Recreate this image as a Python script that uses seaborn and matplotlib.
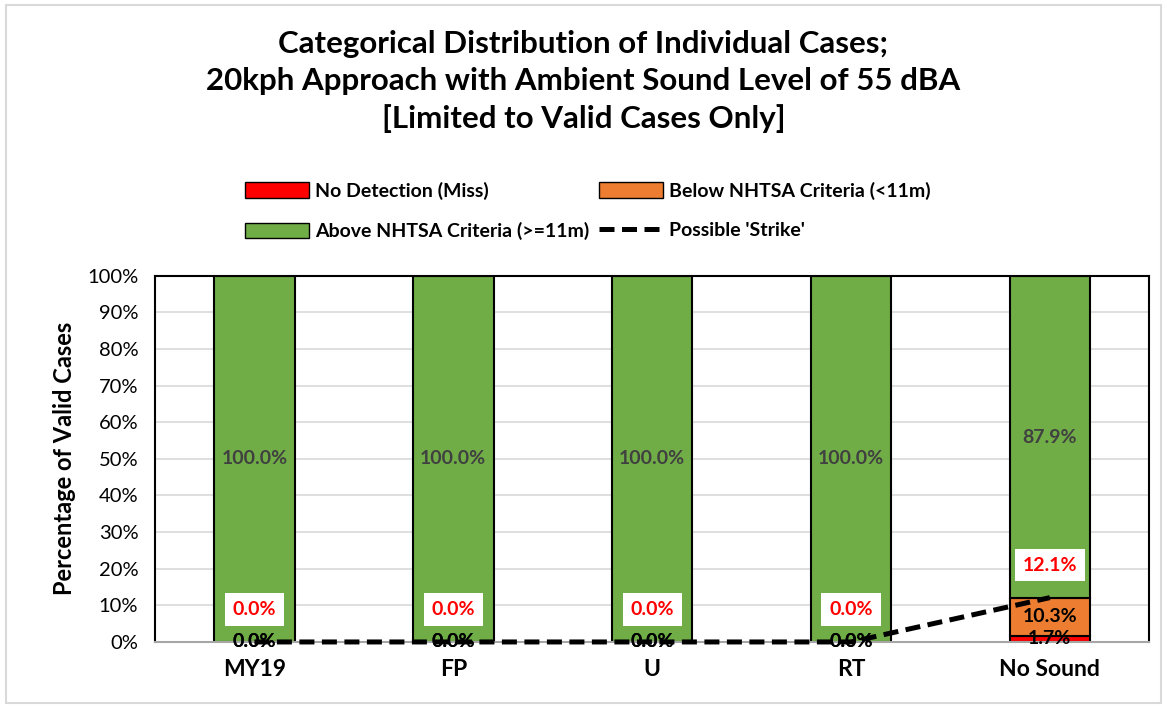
import numpy as np
import pandas as pd
import matplotlib
matplotlib.use("Agg")
import matplotlib.pyplot as plt
import seaborn as sns
from matplotlib.patches import Patch, Rectangle
from matplotlib.lines import Line2D

# Chart data
categories = ["MY19", "FP", "U", "RT", "No Sound"]
no_detection = [0.0, 0.0, 0.0, 0.0, 1.7]
below_nhtsa = [0.0, 0.0, 0.0, 0.0, 10.3]
above_nhtsa = [100.0, 100.0, 100.0, 100.0, 87.9]
possible_strike = [0.0, 0.0, 0.0, 0.0, 12.1]
y_ticks = [0, 10, 20, 30, 40, 50, 60, 70, 80, 90, 100]

title = ("Categorical Distribution of Individual Cases;\n"
         "20kph Approach with Ambient Sound Level of 55 dBA\n"
         "[Limited to Valid Cases Only]")

sns.set_theme(style="white")
plt.rcParams['font.family'] = ['Lato', 'DejaVu Sans']
plt.rcParams['text.color'] = 'black'
plt.rcParams['axes.labelcolor'] = 'black'
plt.rcParams['xtick.color'] = 'black'
plt.rcParams['ytick.color'] = 'black'

df = pd.DataFrame({
    "category": categories,
    "miss": no_detection,
    "below": below_nhtsa,
    "above": above_nhtsa,
    "strike": possible_strike,
})

c_red = "#ff0000"
c_orange = "#ed7d31"
c_green = "#70ad47"
dash = (0, (3, 1.5))

fig = plt.figure(figsize=(11.67, 7.07), dpi=100)
ax = fig.add_axes([0.1328, 0.092, 0.852, 0.518])

bar_w = 0.405
bottom_below = df["miss"].values
bottom_above = df["miss"].values + df["below"].values

sns.barplot(data=df, x="category", y="miss", color=c_red, width=bar_w,
            edgecolor="black", linewidth=1.5, saturation=1, ax=ax)
sns.barplot(data=df, x="category", y="below", color=c_orange, width=bar_w,
            edgecolor="black", linewidth=1.5, saturation=1, ax=ax,
            bottom=bottom_below)
sns.barplot(data=df, x="category", y="above", color=c_green, width=bar_w,
            edgecolor="black", linewidth=1.5, saturation=1, ax=ax,
            bottom=bottom_above)

x_pos = np.arange(len(categories))
sns.lineplot(x=x_pos, y=df["strike"].values, color="black", linewidth=3.6,
             linestyle=dash, ax=ax, zorder=5, clip_on=False)

# data labels
for i in range(len(categories)):
    m, b, a, s = no_detection[i], below_nhtsa[i], above_nhtsa[i], possible_strike[i]
    ax.text(i, m / 2, f"{m:.1f}%", ha="center", va="center", fontsize=14,
            fontweight="bold", color="black", zorder=6)
    ax.text(i, m + b / 2, f"{b:.1f}%", ha="center", va="center", fontsize=14,
            fontweight="bold", color="black", zorder=6)
    ax.text(i, m + b + a / 2, f"{a:.1f}%", ha="center", va="center", fontsize=14,
            fontweight="bold", color="#404040", zorder=6)
    ax.annotate(f"{s:.1f}%", xy=(i, s), xytext=(0, 23.5), textcoords="offset points",
                ha="center", va="center", fontsize=14, fontweight="bold", color=c_red,
                zorder=7,
                bbox=dict(boxstyle="square,pad=0.4", facecolor="white", edgecolor="none"))

ax.set_ylim(0, 100)
ax.set_xlim(-0.5, len(categories) - 0.5)
ax.set_yticks(y_ticks)
ax.set_yticklabels([f"{t}%" for t in y_ticks], fontsize=14.5)
ax.tick_params(axis="y", length=0, pad=12)
ax.tick_params(axis="x", length=0, pad=12)
for lbl in ax.get_xticklabels():
    lbl.set_fontweight("bold")
    lbl.set_fontsize(16.5)
ax.set_xlabel("")
ax.set_ylabel("Percentage of Valid Cases", fontsize=17, fontweight="bold", labelpad=8)
ax.yaxis.grid(True, color="#d9d9d9", linewidth=1.2)
ax.set_axisbelow(True)

for side in ["left", "top", "right"]:
    ax.spines[side].set_color("black")
    ax.spines[side].set_linewidth(1.5)
ax.spines["bottom"].set_color("#a6a6a6")
ax.spines["bottom"].set_linewidth(1.5)

fig.text(0.5, 0.958, title, ha="center", va="top", fontsize=22.5, fontweight="bold",
         linespacing=1.4)

handles = [
    Patch(facecolor=c_red, edgecolor="black", label="No Detection (Miss)"),
    Patch(facecolor=c_green, edgecolor="black", label="Above NHTSA Criteria (>=11m)"),
    Patch(facecolor=c_orange, edgecolor="black", label="Below NHTSA Criteria (<11m)"),
    Line2D([0], [0], color="black", linewidth=3.6, linestyle=dash,
           label="Possible 'Strike'"),
]
leg = fig.legend(handles=handles, ncol=2, loc="upper left", bbox_to_anchor=(0.195, 0.768),
                 frameon=False, handlelength=3.3, handleheight=0.85, columnspacing=0.5,
                 labelspacing=1.15, handletextpad=0.3,
                 prop={"size": 14, "weight": "bold"})

fig.patches.append(Rectangle((0.005, 0.005), 0.99, 0.988, transform=fig.transFigure,
                             fill=False, edgecolor="#d9d9d9", linewidth=1.5))

fig.savefig("out.png", dpi=100)
